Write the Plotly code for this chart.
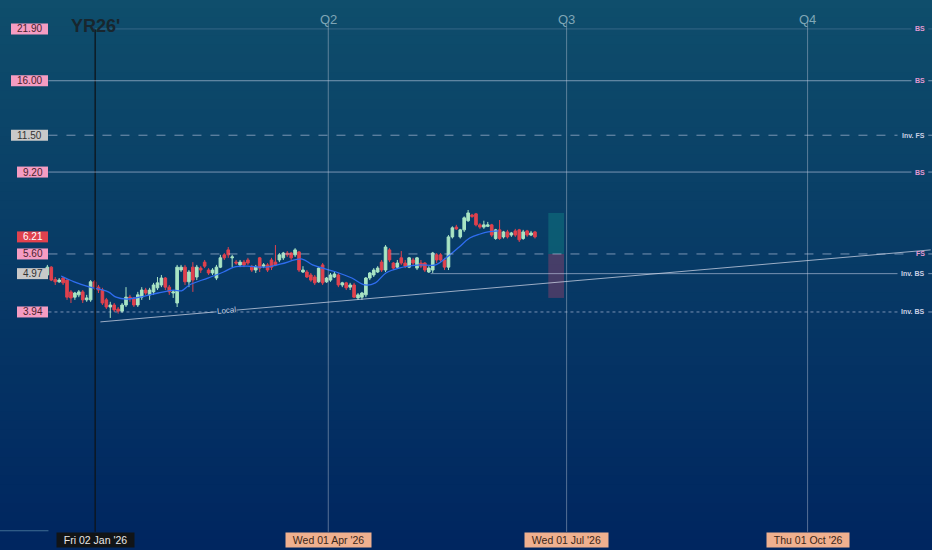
import numpy as np
import pandas as pd
import plotly.graph_objects as go

# candles (open, high, low, close)
opens = [4.93, 5.17, 4.80, 4.73, 4.84, 4.78, 4.45, 4.31, 4.37, 4.45, 4.24, 4.24, 4.73, 4.58, 4.50, 4.24, 4.06, 4.11, 4.01, 3.96,
         4.11, 4.31, 4.29, 4.11, 4.31, 4.50, 4.37, 4.45, 4.56, 4.64, 4.84, 4.58, 4.42, 4.16, 5.08, 5.17, 4.73, 5.17, 4.87, 5.14,
         5.33, 5.08, 4.99, 4.84, 5.17, 5.57, 5.74, 5.47, 5.33, 5.24, 5.33, 5.40, 5.17, 5.08, 5.47, 5.20, 5.24, 5.40, 5.33, 5.40,
         5.47, 5.63, 5.63, 5.57, 5.67, 5.02, 5.02, 4.93, 4.87, 4.73, 5.24, 4.73, 4.78, 4.87, 4.93, 4.64, 4.70, 4.58, 4.64, 4.29,
         4.31, 4.37, 4.84, 4.93, 5.02, 5.33, 5.08, 5.74, 5.30, 5.17, 5.47, 5.30, 5.17, 5.40, 5.14, 5.30, 5.30, 5.02, 5.08, 5.57,
         5.57, 5.40, 5.17, 6.21, 6.59, 6.21, 6.48, 6.85, 7.09, 7.14, 6.68, 6.59, 6.62, 6.68, 6.15, 6.48, 6.21, 6.40, 6.28, 6.44,
         6.48, 6.15, 6.44, 6.28, 6.40]
highs = [5.24, 5.20, 4.87, 4.84, 4.87, 4.80, 4.50, 4.45, 4.50, 4.50, 4.37, 4.78, 4.78, 4.64, 4.56, 4.29, 4.19, 4.16, 4.06, 4.16,
         4.58, 4.37, 4.31, 4.45, 4.58, 4.56, 4.56, 4.70, 4.87, 4.93, 4.87, 4.64, 4.50, 5.24, 5.24, 5.24, 5.08, 5.33, 5.24, 5.20,
         5.40, 5.14, 5.14, 5.24, 5.57, 5.63, 5.84, 5.57, 5.40, 5.40, 5.40, 5.47, 5.24, 5.24, 5.50, 5.30, 5.30, 5.47, 5.91, 5.63,
         5.67, 5.70, 5.67, 5.80, 5.70, 5.20, 5.08, 4.99, 4.93, 5.17, 5.30, 4.87, 4.99, 5.02, 4.99, 4.73, 4.73, 4.70, 4.70, 4.42,
         4.45, 4.87, 5.02, 5.14, 5.20, 5.40, 5.91, 5.80, 5.33, 5.40, 5.70, 5.40, 5.50, 5.47, 5.50, 5.40, 5.33, 5.20, 5.67, 5.63,
         5.63, 5.47, 6.28, 6.62, 6.68, 6.52, 7.03, 7.31, 7.14, 7.18, 6.75, 6.85, 6.80, 6.72, 6.52, 6.88, 6.44, 6.48, 6.40, 6.52,
         6.52, 6.48, 6.48, 6.44, 6.44]
lows = [4.90, 4.75, 4.64, 4.70, 4.64, 4.24, 4.16, 4.24, 4.31, 4.16, 4.19, 4.19, 4.50, 4.42, 4.11, 4.01, 3.80, 3.94, 3.90, 3.92,
        4.06, 4.19, 4.06, 4.06, 4.24, 4.37, 4.24, 4.37, 4.50, 4.58, 4.50, 4.37, 4.29, 4.06, 5.02, 4.64, 4.58, 4.45, 4.78, 4.99,
        5.14, 4.93, 4.93, 4.78, 5.14, 5.40, 5.47, 5.17, 5.24, 5.17, 5.17, 5.24, 5.02, 4.99, 5.02, 5.14, 5.02, 5.08, 5.20, 5.33,
        5.40, 5.50, 5.40, 5.50, 5.02, 4.99, 4.84, 4.73, 4.64, 4.70, 4.64, 4.70, 4.73, 4.84, 4.58, 4.58, 4.50, 4.50, 4.29, 4.24,
        4.24, 4.31, 4.78, 4.87, 4.99, 5.02, 5.02, 5.33, 5.08, 5.14, 5.24, 5.14, 5.14, 5.24, 5.08, 5.14, 5.02, 4.99, 4.99, 5.30,
        5.33, 5.08, 5.08, 6.15, 6.48, 6.15, 6.40, 6.80, 6.97, 6.62, 6.52, 6.52, 6.59, 6.21, 6.10, 6.10, 6.15, 6.15, 6.21, 6.21,
        6.02, 6.10, 6.21, 6.24, 6.15]
closes = [5.17, 4.78, 4.73, 4.78, 4.70, 4.31, 4.29, 4.42, 4.45, 4.24, 4.29, 4.73, 4.58, 4.50, 4.16, 4.06, 4.11, 3.99, 3.96, 4.11,
          4.31, 4.29, 4.11, 4.37, 4.50, 4.42, 4.50, 4.64, 4.70, 4.84, 4.58, 4.45, 4.45, 5.17, 5.17, 4.73, 5.02, 4.78, 5.17, 5.08,
          5.20, 4.99, 5.08, 5.17, 5.47, 5.47, 5.57, 5.50, 5.30, 5.33, 5.24, 5.30, 5.08, 5.17, 5.14, 5.24, 5.08, 5.17, 5.24, 5.57,
          5.63, 5.57, 5.47, 5.74, 5.08, 5.08, 4.87, 4.78, 4.70, 5.14, 4.70, 4.84, 4.93, 4.96, 4.64, 4.70, 4.56, 4.64, 4.31, 4.37,
          4.42, 4.84, 4.99, 5.08, 5.14, 5.08, 5.84, 5.40, 5.14, 5.30, 5.30, 5.20, 5.47, 5.30, 5.47, 5.20, 5.08, 5.14, 5.63, 5.40,
          5.40, 5.17, 6.21, 6.56, 6.52, 6.48, 6.97, 7.18, 7.03, 6.68, 6.59, 6.68, 6.68, 6.28, 6.48, 6.15, 6.40, 6.21, 6.36, 6.28,
          6.10, 6.40, 6.28, 6.36, 6.21]
first_candle = "2025-12-14 18:00"
last_candle = "2026-06-18 22:00"

# moving average line
ema_dates = ["2025-12-20", "2025-12-25", "2025-12-31", "2026-01-07", "2026-01-10", "2026-01-14", "2026-01-19",
             "2026-01-26", "2026-02-01", "2026-02-04", "2026-02-07", "2026-02-14", "2026-02-20", "2026-02-24",
             "2026-03-01", "2026-03-08", "2026-03-14", "2026-03-22", "2026-03-26", "2026-04-04", "2026-04-10",
             "2026-04-15", "2026-04-19", "2026-04-23", "2026-04-28", "2026-05-06", "2026-05-12", "2026-05-16",
             "2026-05-21", "2026-05-25", "2026-05-29", "2026-06-01", "2026-06-05"]
ema_vals = [4.90, 4.73, 4.58, 4.45, 4.31, 4.26, 4.31, 4.42, 4.50, 4.48, 4.64, 4.84, 5.02, 5.17, 5.20, 5.17, 5.27,
            5.43, 5.24, 5.02, 4.84, 4.64, 4.70, 4.99, 5.14, 5.24, 5.24, 5.47, 5.84, 6.17, 6.32, 6.40, 6.44]

# horizontal levels
levels = [21.90, 16.00, 11.50, 9.20, 5.60, 4.97, 3.94]
level_tags = ["BS", "BS", "Inv. FS", "BS", "FS", "Inv. BS", "Inv. BS"]
level_dash = ["solid", "solid", "dash", "solid", "dash", "solid", "dot"]
level_box = ["pink", "pink", "gray", "pink", "pink", "gray", "pink"]
last_price = 6.21

# quarter markers
quarter_dates = ["2026-04-01", "2026-07-01", "2026-10-01"]
quarter_names = ["Q2", "Q3", "Q4"]
quarter_labels = ["Wed 01 Apr '26", "Wed 01 Jul '26", "Thu 01 Oct '26"]
year_date = "2026-01-02"
year_label = "Fri 02 Jan '26"

# trendline and long position box
trend_start = ("2026-01-04", 3.71)
trend_end = ("2026-11-17", 5.74)
local_label = ("2026-02-21", 3.97)
pos_dates = ("2026-06-24", "2026-06-30")
pos_target, pos_entry, pos_stop = 7.18, 5.60, 4.29

x_range = ["2025-11-26 16:00", "2026-11-17 12:00"]
y_range = [0.931, 26.1]

W, H = 932, 550
GREEN = "#a9e5c4"
RED = "#e0424e"
PINK = "#f59cc2"
LINE = "rgba(195,205,230,0.6)"

dates = pd.to_datetime(np.linspace(pd.Timestamp(first_candle).value,
                                   pd.Timestamp(last_candle).value, len(closes)))
log_lo, log_hi = np.log10(y_range[0]), np.log10(y_range[1])
px_log = (log_hi - log_lo) / H   # log10 units per pixel

fig = go.Figure()

# background gradient
top = np.array([15, 78, 108])
bot = np.array([0, 38, 96])
nb = 60
for i in range(nb):
    t = i / (nb - 1)
    c = top * (1 - t) + bot * t
    fig.add_shape(type="rect", xref="paper", yref="paper", x0=0, x1=1,
                  y0=1 - (i + 1) / nb, y1=1 - i / nb + 0.002,
                  fillcolor="rgb(%d,%d,%d)" % tuple(c), line_width=0, layer="below")

# long position box
fig.add_shape(type="rect", x0=pos_dates[0], x1=pos_dates[1], y0=pos_entry, y1=pos_target,
              fillcolor="rgba(20,150,140,0.35)", line_width=0, layer="below")
fig.add_shape(type="rect", x0=pos_dates[0], x1=pos_dates[1], y0=pos_stop, y1=pos_entry,
              fillcolor="rgba(190,70,110,0.35)", line_width=0, layer="below")

# vertical lines
for d in quarter_dates:
    fig.add_shape(type="line", x0=d, x1=d, yref="paper", y0=0.033, y1=0.963,
                  line=dict(color="rgba(190,200,215,0.45)", width=1))
fig.add_shape(type="line", x0=year_date, x1=year_date, yref="paper", y0=0.033, y1=0.947,
              line=dict(color="#0d141a", width=1.3))


def price_tag(value, bg, fg):
    txt = "%.2f" % value
    w = 6 * len(txt) + 7
    right = 48 / W
    half = 5.5 * px_log
    fig.add_shape(type="rect", xref="paper", x0=right - w / W, x1=right,
                  y0=value * 10 ** (-half), y1=value * 10 ** half,
                  fillcolor=bg, line_width=0)
    fig.add_annotation(x=right - w / 2 / W, xref="paper", y=np.log10(value), text=txt,
                       showarrow=False, xanchor="center",
                       font=dict(size=10, color=fg, family="Liberation Sans"))


# horizontal levels
for i, lv in enumerate(levels):
    x0 = 0.052
    x1 = 0.978 if len(level_tags[i]) <= 2 else 0.963
    col = LINE
    if i == 0:
        x0 = 0.102
        col = "rgba(195,205,230,0.22)"
    if i == 5:
        x0 = 0.462
    fig.add_shape(type="line", xref="paper", x0=x0, x1=x1, y0=lv, y1=lv,
                  line=dict(color=col, width=1, dash=level_dash[i]))
    fig.add_shape(type="line", xref="paper", x0=0.996, x1=1.0, y0=lv, y1=lv,
                  line=dict(color=col, width=1))
    tag_col = "#e29ad2" if not level_tags[i].startswith("Inv") else "#c9cfe4"
    fig.add_annotation(x=0.995, xref="paper", y=np.log10(lv), text="<b>%s</b>" % level_tags[i],
                       showarrow=False, xanchor="right", font=dict(size=7, color=tag_col,
                       family="Liberation Sans"))
    if level_box[i] == "pink":
        price_tag(lv, PINK, "#4a1f2c")
    else:
        price_tag(lv, "#c9c9c9", "#333333")

price_tag(last_price, RED, "white")

# trendline
fig.add_shape(type="line", x0=trend_start[0], y0=trend_start[1], x1=trend_end[0], y1=trend_end[1],
              line=dict(color="rgba(205,212,230,0.75)", width=1))
fig.add_annotation(x=local_label[0], y=np.log10(local_label[1]), text="Local", showarrow=False,
                   textangle=-5, bgcolor="rgb(5,55,102)", borderpad=0,
                   font=dict(size=8, color="#c9cfe0", family="Liberation Sans"))

# moving average
fig.add_trace(go.Scatter(x=pd.to_datetime(ema_dates), y=ema_vals, mode="lines",
                         line=dict(color="#2f6df0", width=1.3, shape="spline"),
                         hoverinfo="skip"))

fig.add_trace(go.Candlestick(
    x=dates, open=opens, high=highs, low=lows, close=closes,
    increasing=dict(line=dict(color=GREEN, width=1), fillcolor=GREEN),
    decreasing=dict(line=dict(color=RED, width=1), fillcolor=RED),
    whiskerwidth=0))

# top texts
for d, q in zip(quarter_dates, quarter_names):
    fig.add_annotation(x=d, yref="paper", y=0.982, text=q, showarrow=False,
                       font=dict(size=13, color="#7fa6b6", family="Liberation Sans"))
fig.add_annotation(x=year_date, yref="paper", y=0.975, text="<b>YR26'</b>", showarrow=False,
                   font=dict(size=18, color="#18262e", family="Liberation Sans"))

# bottom date labels
pad = "&nbsp;&nbsp;"
fig.add_annotation(x=year_date, yref="paper", y=10 / H, yanchor="middle", text=pad + year_label + pad,
                   showarrow=False, bgcolor="#111417", borderpad=1,
                   font=dict(size=10.5, color="#e8e8e8", family="Liberation Sans"))
for d, lab in zip(quarter_dates, quarter_labels):
    fig.add_annotation(x=d, yref="paper", y=10 / H, yanchor="middle", text=pad + lab + pad,
                       showarrow=False, bgcolor="#efb08f", borderpad=1,
                       font=dict(size=10.5, color="#3b2618", family="Liberation Sans"))
fig.add_shape(type="line", xref="paper", yref="paper", x0=0, x1=0.052, y0=0.035, y1=0.035,
              line=dict(color="rgba(90,140,170,0.7)", width=1))

fig.update_layout(
    width=W, height=H,
    margin=dict(l=0, r=0, t=0, b=0),
    paper_bgcolor="rgb(5,55,100)",
    plot_bgcolor="rgba(0,0,0,0)",
    showlegend=False,
    boxgap=0.05,
    xaxis=dict(type="date", range=x_range, visible=False, rangeslider=dict(visible=False)),
    yaxis=dict(type="log", range=[log_lo, log_hi], visible=False),
)

fig.write_html("out.html", config={"displayModeBar": False},
               post_script="document.body.style.margin='0';document.body.style.overflow='hidden';")
